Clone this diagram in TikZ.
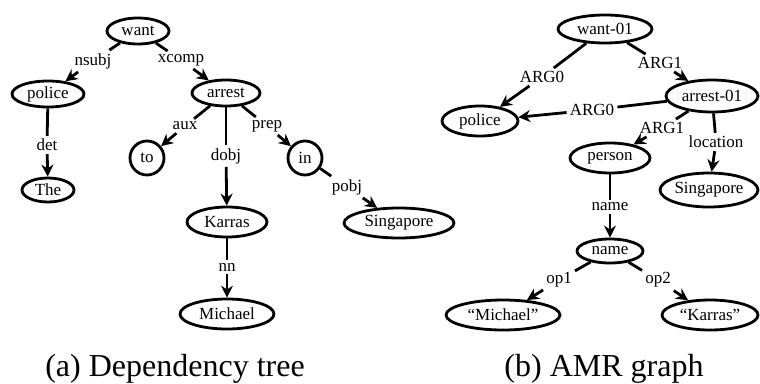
\documentclass[tikz,border=0pt]{standalone}
\usepackage{fontspec}
\setmainfont{Liberation Serif}
\usetikzlibrary{shapes.geometric,arrows.meta}

\begin{document}
\begin{tikzpicture}[x=1pt,y=-1pt,
  every node/.style={font={\fontsize{17}{17}\selectfont}},
  ov/.style={draw,ellipse,line width=2.8pt,inner sep=0pt},
  circ/.style={draw,circle,line width=2.8pt,inner sep=0pt,minimum size=34pt},
  lbl/.style={inner sep=3pt},
  link/.style={line width=2.8pt},
  arc/.style={line width=2.8pt,-{Stealth[length=12pt,width=12pt,inset=4pt]}},
  captext/.style={font={\fontsize{32}{32}\selectfont},inner sep=0pt,anchor=base}
]
\useasboundingbox (0,0) rectangle (760,383);

% ---------- (a) dependency tree ----------
\node[ov,minimum width=62pt,minimum height=26pt] (want) at (138,31) {want};
\node[ov,minimum width=72pt,minimum height=26pt] (police) at (48,94) {police};
\node[ov,minimum width=68pt,minimum height=26pt] (arrest) at (226,93) {arrest};
\node[circ] (to) at (147,158) {to};
\node[circ] (in) at (305,158) {in};
\node[ov,minimum width=52pt,minimum height=24pt] (the) at (48,190) {The};
\node[ov,minimum width=80pt,minimum height=30pt] (karras) at (227,222) {Karras};
\node[ov,minimum width=110pt,minimum height=30pt] (singL) at (399,223) {Singapore};
\node[ov,minimum width=94pt,minimum height=30pt] (michael) at (227,314) {Michael};

\node[lbl] (nsubj) at (93,61) {nsubj};
\node[lbl] (xcomp) at (181,60) {xcomp};
\node[lbl] (det) at (47,145) {det};
\node[lbl] (aux) at (185,126) {aux};
\node[lbl] (prep) at (267,126) {prep};
\node[lbl] (dobj) at (226,156) {dobj};
\node[lbl] (pobj) at (347,187) {pobj};
\node[lbl] (nn) at (227,267) {nn};

\draw[link] (want) -- (nsubj);  \draw[arc] (nsubj) -- (police);
\draw[link] (want) -- (xcomp);  \draw[arc] (xcomp) -- (arrest);
\draw[link] (police) -- (det);  \draw[arc] (det) -- (the);
\draw[link] (arrest) -- (aux);  \draw[arc] (aux) -- (to);
\draw[link] (arrest) -- (dobj); \draw[arc] (dobj) -- (karras);
\draw[link] (arrest) -- (prep); \draw[arc] (prep) -- (in);
\draw[link] (in) -- (pobj);     \draw[arc] (pobj) -- (singL);
\draw[link] (karras) -- (nn);   \draw[arc] (nn) -- (michael);

% ---------- (b) AMR graph ----------
\node[ov,minimum width=94pt,minimum height=28pt] (want01) at (605,29) {want-01};
\node[ov,minimum width=92pt,minimum height=32pt] (arrest01) at (712,96) {arrest-01};
\node[ov,minimum width=76pt,minimum height=30pt] (policeR) at (480,121) {police};
\node[ov,minimum width=80pt,minimum height=30pt] (person) at (610,158) {person};
\node[ov,minimum width=98pt,minimum height=34pt] (singR) at (709,190) {Singapore};
\node[ov,minimum width=66pt,minimum height=24pt] (name) at (610,251) {name};
\node[ov,minimum width=114pt,minimum height=30pt] (michaelR) at (503,315) {“Michael”};
\node[ov,minimum width=96pt,minimum height=30pt] (karrasR) at (710,315) {“Karras”};

\node[lbl] (argA) at (542,77) {ARG0};
\node[lbl] (argB) at (660,63) {ARG1};
\node[lbl] (argC) at (592,110) {ARG0};
\node[lbl] (argD) at (662,128) {ARG1};
\node[lbl] (loc) at (716,142) {location};
\node[lbl] (nm) at (610,207) {name};
\node[lbl] (opA) at (559,280) {op1};
\node[lbl] (opB) at (658,280) {op2};

\draw[link] (want01) -- (argA);   \draw[arc] (argA) -- (policeR);
\draw[link] (want01) -- (argB);   \draw[arc] (argB) -- (arrest01);
\draw[link] (arrest01) -- (argC); \draw[arc] (argC) -- (policeR);
\draw[link] (arrest01) -- (argD); \draw[arc] (argD) -- (person);
\draw[link] (arrest01) -- (loc);  \draw[arc] (loc) -- (singR);
\draw[link] (person) -- (nm);     \draw[arc] (nm) -- (name);
\draw[link] (name) -- (opA);      \draw[arc] (opA) -- (michaelR);
\draw[link] (name) -- (opB);      \draw[arc] (opB) -- (karrasR);

% ---------- captions ----------
\node[captext] (capA) at (175,376) {(a) Dependency tree};
\node[captext] (capB) at (604,376) {(b) AMR graph};
\end{tikzpicture}
\end{document}
